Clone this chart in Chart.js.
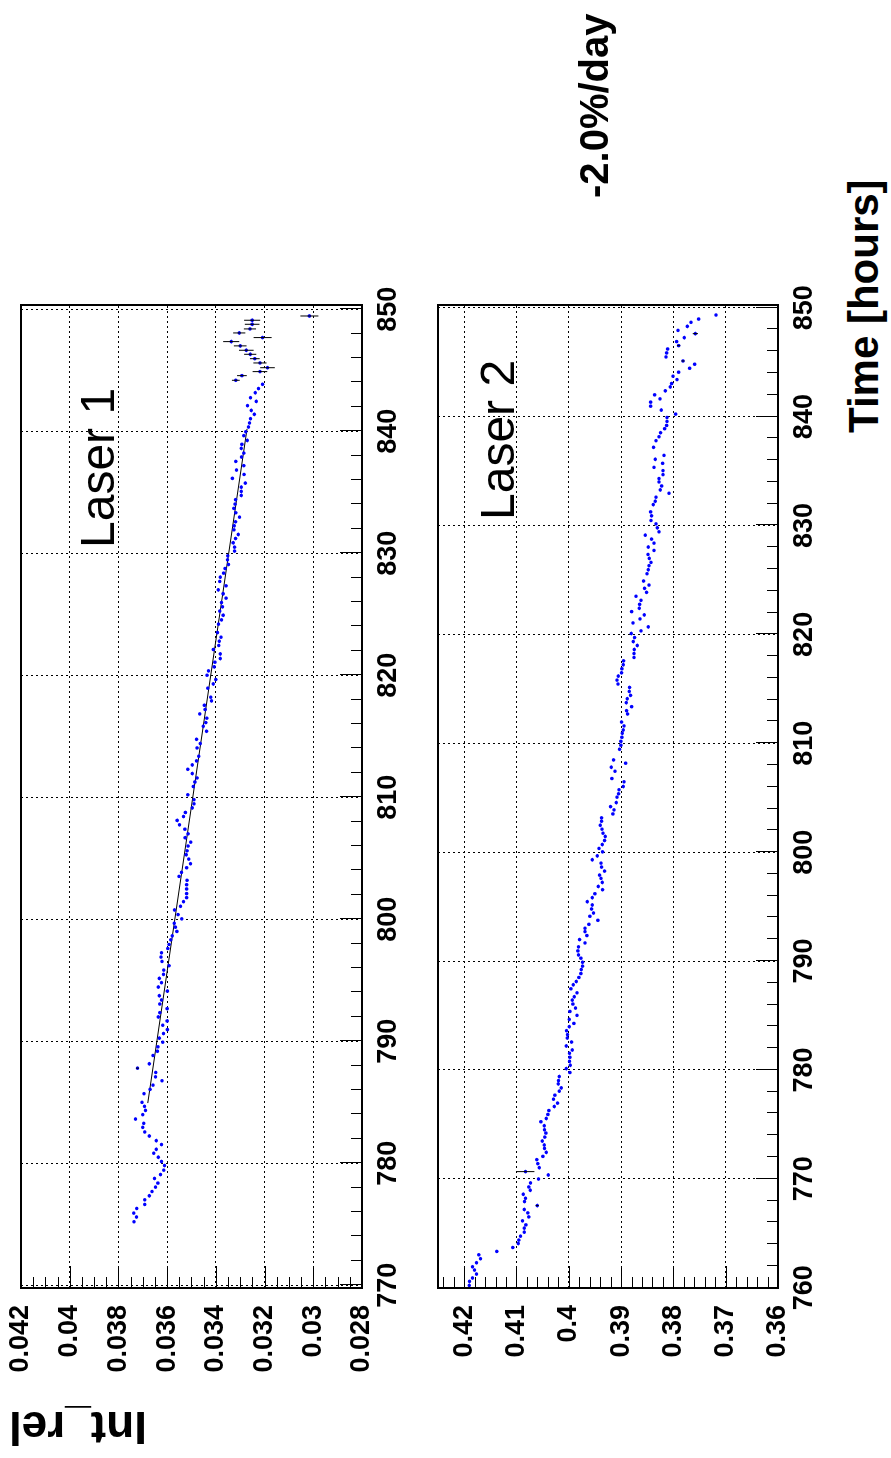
<!DOCTYPE html>
<html>
<head>
<meta charset="utf-8">
<script src="https://cdn.jsdelivr.net/npm/chart.js@4.4.1/dist/chart.umd.min.js"></script>
<style>
html, body { margin: 0; padding: 0; background: #fff; overflow: hidden; }
body { width: 891px; height: 1458px; position: relative; }
/* the plot is laid out landscape and turned a quarter turn to the left */
#page { position: absolute; left: 0; top: 0; width: 1458px; height: 930px;
        transform-origin: 0 0; transform: translate(0, 1458px) rotate(-90deg);
        font-family: 'Liberation Sans', Arial, sans-serif; }
#page canvas { position: absolute; left: 0; }
.lbl { position: absolute; white-space: nowrap; line-height: 1; color: #000; }
.b { font-weight: bold; }
</style>
</head>
<body>
<div id="page">
  <canvas id="pad1" width="1458" height="420" style="top:0px"></canvas>
  <canvas id="pad2" width="1458" height="420" style="top:420px"></canvas>
  <div class="lbl" style="left:910px; top:74px; font-size:48px">Laser 1</div>
  <div class="lbl" style="left:938px; top:474px; font-size:48px">Laser 2</div>
  <div class="lbl b" style="left:7px; top:147px; font-size:46px; transform-origin:0 0; transform:rotate(-90deg)">Int_rel</div>
  <div class="lbl b" style="left:1025px; top:843px; font-size:42px">Time [hours]</div>
  <div class="lbl b" style="left:1260px; top:574px; font-size:40px">-2.0%/day</div>
  <div class="lbl b" style="left:1255px; top:892px; font-size:40px">-4.7%/day</div>
</div>
<script>
// Laser 1 : relative intensity vs time
var laser1Time = [775.2,775.59,775.91,776.29,776.62,777.0,777.33,777.68,778.04,778.37,778.75,779.07,779.43,779.81,780.14,780.49,780.82,781.14,781.53,781.85,
  782.23,782.56,782.94,783.27,783.62,783.98,784.33,784.66,784.99,785.7,786.05,786.4,786.76,787.08,787.44,787.79,788.15,788.83,789.18,789.54,
  789.92,790.25,790.63,790.95,791.31,791.66,791.99,792.34,792.67,793.05,793.38,793.73,794.11,794.44,794.8,795.15,795.48,795.83,796.19,796.54,
  796.9,797.25,797.6,797.93,798.31,798.64,799.0,799.35,799.67,800.03,800.38,800.76,801.06,801.44,801.77,802.1,802.48,802.83,803.19,803.51,
  803.84,804.22,804.55,804.93,805.29,805.61,806.0,806.32,806.68,807.0,807.38,807.74,808.1,808.42,808.75,809.13,809.46,809.8,810.2,810.88,
  811.25,811.58,811.94,812.29,812.65,812.98,813.36,814.04,814.4,814.75,815.41,815.82,816.12,816.48,816.83,817.19,817.54,817.9,818.2,818.94,
  819.29,819.65,820.0,820.36,820.69,821.07,821.37,821.75,822.11,822.44,822.79,823.12,823.5,824.19,824.54,824.92,825.26,825.61,825.96,826.32,
  826.68,827.0,827.33,827.69,828.04,828.37,828.75,829.08,829.46,829.79,830.18,830.5,830.86,831.21,831.54,831.92,832.25,832.58,832.96,833.32,
  833.68,834.03,834.39,834.74,835.07,835.42,835.75,836.14,836.46,836.82,837.18,837.53,837.89,838.21,838.6,838.93,839.25,839.64,839.96,840.35,
  840.68,841.03,841.39,841.71,842.1,842.45,842.75,843.16,843.5,843.85,844.18,844.56,844.89,845.21,845.6,845.95,846.31,846.64,847.0,847.35,
  847.68,848.06,848.39,848.77,849.1,849.45];
var laser1Int = [0.03736,0.03726,0.03737,0.03725,0.03692,0.03692,0.03673,0.03662,0.03648,0.03638,0.03652,0.03627,0.03614,0.03611,0.03623,0.03636,0.03655,0.03645,0.03623,0.03645,
  0.03673,0.03692,0.037,0.03696,0.0373,0.037,0.03689,0.03693,0.03703,0.03695,0.0367,0.03658,0.03621,0.03648,0.03647,0.03722,0.03673,0.03658,0.0364,0.03638,
  0.03618,0.03632,0.03615,0.03599,0.03618,0.036,0.03636,0.0363,0.036,0.0363,0.03623,0.03632,0.03599,0.03636,0.03623,0.03632,0.03615,0.03614,0.03592,0.03621,
  0.03625,0.03623,0.03597,0.03592,0.03585,0.03579,0.0356,0.03566,0.03571,0.0354,0.03555,0.0357,0.03545,0.03533,0.0352,0.0352,0.0352,0.0352,0.03518,0.03551,
  0.03541,0.0352,0.03504,0.03511,0.03522,0.03518,0.03514,0.03503,0.03526,0.03514,0.03527,0.03549,0.03559,0.03533,0.03525,0.03497,0.0349,0.0349,0.03515,0.03493,
  0.03486,0.03477,0.03497,0.03515,0.03497,0.03479,0.0347,0.03477,0.03464,0.03479,0.03438,0.03452,0.03441,0.03437,0.03466,0.03444,0.03447,0.03418,0.03421,0.03433,
  0.03411,0.034,0.03436,0.0343,0.03407,0.03404,0.03382,0.03382,0.0341,0.03388,0.03386,0.03379,0.03393,0.03389,0.03377,0.0337,0.03384,0.03373,0.03377,0.03358,
  0.0337,0.0339,0.03358,0.03384,0.03382,0.03368,0.03362,0.03348,0.03352,0.03351,0.03323,0.03323,0.03329,0.03319,0.03308,0.03326,0.03325,0.03319,0.03303,0.03318,
  0.03326,0.03321,0.03319,0.03296,0.03296,0.03296,0.03279,0.03332,0.03284,0.03315,0.03285,0.03318,0.03295,0.03285,0.03296,0.03293,0.03271,0.03285,0.03277,0.03266,
  0.03262,0.03258,0.03242,0.03255,0.0327,0.03234,0.03258,0.03238,0.03225,0.03208,0.03318,0.03293,0.03219,0.03188,0.03219,0.0324,0.03259,0.03275,0.033,0.03337,
  0.03208,0.03304,0.0326,0.03251,0.03251,0.03016];
// points of laser 1 that carry a visible error bar
var laser1ErrTime = [844.18,844.56,844.89,845.21,845.6,845.95,846.31,846.64,847.0,847.35,847.68,848.06,848.39,848.77,849.1,849.45,787.79];
var laser1ErrInt  = [0.03318,0.03293,0.03219,0.03188,0.03219,0.0324,0.03259,0.03275,0.033,0.03337,0.03208,0.03304,0.0326,0.03251,0.03251,0.03016,0.03722];
var laser1ErrSize = [0.00016,0.0002,0.0003,0.0003,0.00027,0.0002,0.00025,0.0003,0.00026,0.00033,0.00037,0.00025,0.00025,0.0003,0.00033,0.00037,0.00006];
// straight-line fit drawn over laser 1
var fit1Time = [784.93, 840.2];
var fit1Int  = [0.036795, 0.03272];

// Laser 2 : relative intensity vs time
var laser2Time = [760.21,760.58,760.89,761.25,761.62,761.92,762.29,762.66,763.02,763.33,763.69,764.06,764.37,764.73,765.1,765.47,765.77,766.14,766.5,766.87,
  767.18,767.54,767.91,768.21,768.58,768.95,769.25,769.62,769.98,770.35,770.66,771.02,771.39,771.76,772.06,772.43,772.79,773.1,773.47,773.83,
  774.2,774.5,774.87,775.24,775.54,775.91,776.27,776.64,776.95,777.31,777.68,778.05,778.35,778.72,779.02,779.39,779.76,780.12,780.43,780.79,
  781.16,781.53,781.83,782.2,782.56,782.93,783.24,783.6,783.97,784.27,784.64,785.01,785.37,785.68,786.05,786.41,786.72,787.08,787.45,787.82,
  788.12,788.49,788.85,789.22,789.53,789.89,790.26,790.56,790.93,791.3,791.66,791.97,792.34,792.7,793.01,793.37,793.74,794.11,794.41,794.78,
  795.15,795.45,795.82,796.18,796.55,796.85,797.22,797.59,797.89,798.26,798.63,798.99,799.3,799.66,800.03,800.34,800.7,801.07,801.44,801.74,
  802.11,802.47,802.84,803.15,803.51,803.88,804.18,804.55,805.05,805.36,805.73,806.03,806.46,806.76,807.43,807.8,808.17,808.47,809.45,809.82,
  810.18,810.55,810.92,811.22,811.59,811.95,812.69,812.99,813.36,813.73,814.09,814.4,814.76,815.13,815.44,815.8,816.17,816.47,816.84,817.21,
  817.57,817.88,818.24,818.61,818.98,819.34,819.71,820.08,820.32,820.69,821.05,821.42,821.79,822.09,822.4,822.76,823.13,823.5,823.86,824.23,
  824.53,824.9,825.57,825.94,826.31,826.61,826.98,827.34,827.71,828.02,828.38,828.75,829.11,829.42,829.79,830.15,830.46,830.89,831.25,831.92,
  832.23,832.6,832.96,833.27,833.63,834.0,834.31,834.67,835.04,835.34,835.71,836.08,836.44,837.18,837.79,838.15,838.52,838.89,839.19,839.56,
  839.92,840.23,840.6,840.96,841.33,841.63,842.0,842.37,842.73,843.04,843.4,843.71,844.08,844.44,844.81,845.11,845.48,845.85,846.21,846.52,
  846.89,847.25,847.62,847.92,848.29,848.66,848.96,849.33];
var laser2Int = [0.41904,0.41898,0.41841,0.41764,0.41802,0.41841,0.41764,0.41688,0.41719,0.41375,0.41069,0.40967,0.40954,0.40922,0.40852,0.40852,0.4082,0.40884,0.40763,0.40782,
  0.40852,0.40603,0.40846,0.40827,0.40871,0.40737,0.40763,0.40731,0.40578,0.40393,0.40827,0.40565,0.40591,0.4061,0.40495,0.40431,0.40463,0.40469,0.40508,0.40457,
  0.40437,0.40463,0.40469,0.40533,0.40431,0.40399,0.4038,0.40278,0.40214,0.40291,0.40265,0.40182,0.40144,0.40202,0.40195,0.40182,0.39978,0.40048,0.39972,0.39985,
  0.39978,0.39985,0.39934,0.40048,0.39946,0.40029,0.40023,0.40042,0.39991,0.39902,0.39991,0.39844,0.39978,0.3987,0.39921,0.39934,0.39895,0.39844,0.39959,0.39915,
  0.39857,0.39806,0.39768,0.39761,0.39736,0.39736,0.39768,0.39813,0.39825,0.39813,0.39691,0.39793,0.39653,0.39691,0.39691,0.39615,0.39443,0.39596,0.39526,0.39564,
  0.39551,0.39647,0.39551,0.395,0.39353,0.39436,0.3936,0.39385,0.39411,0.39315,0.39372,0.39385,0.39551,0.39455,0.39353,0.39423,0.3936,0.39315,0.39302,0.39347,
  0.39366,0.39398,0.39372,0.39372,0.39156,0.39136,0.392,0.39092,0.39079,0.39047,0.39041,0.38958,0.38945,0.39175,0.39117,0.39187,0.38913,0.39143,0.39028,0.39003,
  0.39003,0.38984,0.38977,0.38958,0.38945,0.3899,0.38875,0.38894,0.38798,0.38901,0.38881,0.38818,0.38843,0.38837,0.3906,0.39079,0.39054,0.3899,0.38984,0.38958,
  0.38952,0.38754,0.38754,0.38747,0.3869,0.38767,0.38741,0.38805,0.3862,0.3848,0.38773,0.38639,0.38556,0.38798,0.38652,0.38645,0.3862,0.38716,0.38512,0.3855,
  0.38467,0.38569,0.38505,0.3848,0.38467,0.38429,0.3846,0.38486,0.38371,0.3848,0.38371,0.38416,0.38537,0.38276,0.38307,0.38333,0.38429,0.38416,0.38435,0.38384,
  0.38346,0.38333,0.38084,0.3825,0.38224,0.38276,0.38276,0.38199,0.38199,0.38371,0.38205,0.38346,0.3818,0.38378,0.38333,0.38276,0.38244,0.38167,0.38129,0.38122,
  0.38122,0.37957,0.38231,0.38435,0.38435,0.38256,0.38358,0.38154,0.38059,0.38033,0.37931,0.38008,0.37899,0.37689,0.37593,0.37816,0.38142,0.38129,0.3811,0.37899,
  0.37938,0.37791,0.3758,0.37912,0.37733,0.37663,0.37517,0.37185];
var laser2ErrTime = [767.54, 770.66, 845.11, 846.52, 847.62];
var laser2ErrInt  = [0.40603, 0.40827, 0.37816, 0.37899, 0.3758];
var laser2ErrSize = [0.0003, 0.0017, 0.0003, 0.0003, 0.0005];

// axis tick values
var time1Ticks = [770, 780, 790, 800, 810, 820, 830, 840, 850];
var time2Ticks = [760, 770, 780, 790, 800, 810, 820, 830, 840, 850];
var int1Ticks = [0.028, 0.03, 0.032, 0.034, 0.036, 0.038, 0.04, 0.042];
var int2Ticks = [0.36, 0.37, 0.38, 0.39, 0.4, 0.41, 0.42];

function points(xs, ys) {
  return xs.map(function (x, i) { return { x: x, y: ys[i] }; });
}

// ROOT-like frame, inner tick marks and error bars
var rootPad = {
  id: 'rootPad',
  afterDatasetsDraw: function (chart, args, o) {
    var ctx = chart.ctx, xs = chart.scales.x, ys = chart.scales.y;
    ctx.save();
    ctx.strokeStyle = '#000';
    ctx.lineWidth = 1;
    for (var i = 0; i < o.errTime.length; i++) {
      var px = xs.getPixelForValue(o.errTime[i]);
      var p1 = ys.getPixelForValue(o.errInt[i] - o.errSize[i]);
      var p2 = ys.getPixelForValue(o.errInt[i] + o.errSize[i]);
      ctx.beginPath(); ctx.moveTo(px, p1); ctx.lineTo(px, p2); ctx.stroke();
    }
    ctx.restore();
  },
  afterDraw: function (chart, args, o) {
    var ctx = chart.ctx, a = chart.chartArea, xs = chart.scales.x, ys = chart.scales.y;
    ctx.save();
    ctx.strokeStyle = '#000';
    ctx.lineWidth = 1;
    var n, v, len, p;
    for (n = Math.ceil(xs.min / o.xMinor - 1e-9); n * o.xMinor <= xs.max + 1e-9; n++) {
      v = n * o.xMinor;
      len = Math.abs(v / o.xMajor - Math.round(v / o.xMajor)) < 1e-6 ? 22 : 11;
      p = Math.round(xs.getPixelForValue(v)) + 0.5;
      ctx.beginPath(); ctx.moveTo(p, a.bottom); ctx.lineTo(p, a.bottom - len); ctx.stroke();
    }
    for (n = Math.ceil(ys.min / o.yMinor - 1e-9); n * o.yMinor <= ys.max + 1e-9; n++) {
      v = n * o.yMinor;
      len = Math.abs(v / o.yMajor - Math.round(v / o.yMajor)) < 1e-6 ? 22 : 11;
      p = Math.round(ys.getPixelForValue(v)) + 0.5;
      ctx.beginPath(); ctx.moveTo(a.left, p); ctx.lineTo(a.left + len, p); ctx.stroke();
    }
    ctx.lineWidth = 2;
    ctx.strokeRect(a.left, a.top, a.right - a.left, a.bottom - a.top);
    ctx.restore();
  }
};

var tickFont = { family: "'Liberation Sans', Arial, sans-serif", size: 27, weight: 'bold' };

function makePad(id, cfg) {
  var datasets = [{
    type: 'scatter',
    data: points(cfg.time, cfg.int),
    pointRadius: 1.8,
    pointBorderWidth: 0,
    pointBackgroundColor: '#0000ff',
    borderColor: '#0000ff'
  }];
  if (cfg.fitTime) {
    datasets.push({
      type: 'line',
      data: points(cfg.fitTime, cfg.fitInt),
      borderColor: '#000',
      borderWidth: 1,
      pointRadius: 0,
      fill: false
    });
  }
  return new Chart(document.getElementById(id), {
    type: 'scatter',
    data: { datasets: datasets },
    options: {
      responsive: false,
      animation: false,
      devicePixelRatio: 1,
      layout: { padding: { left: 0, right: 305, top: cfg.top, bottom: 0 } },
      plugins: {
        legend: { display: false },
        tooltip: { enabled: false },
        rootPad: cfg.pad
      },
      scales: {
        x: {
          type: 'linear',
          min: cfg.tMin, max: cfg.tMax,
          afterBuildTicks: function (s) { s.ticks = cfg.tTicks.map(function (v) { return { value: v }; }); },
          afterFit: function (s) { s.height = cfg.xh; s.paddingLeft = 0; s.paddingRight = 0; },
          grid: { color: '#000', lineWidth: 1, drawTicks: false },
          border: { display: false, dash: [2, 3] },
          ticks: { color: '#000', font: tickFont, padding: 10, maxRotation: 0, autoSkip: false }
        },
        y: {
          type: 'linear',
          min: cfg.iMin, max: cfg.iMax,
          afterBuildTicks: function (s) { s.ticks = cfg.iTicks.map(function (v) { return { value: v }; }); },
          afterFit: function (s) { s.width = 170; s.paddingTop = 0; s.paddingBottom = 0; },
          grid: { color: '#000', lineWidth: 1, drawTicks: false },
          border: { display: false, dash: [2, 3] },
          ticks: {
            color: '#000', font: tickFont, padding: 17, autoSkip: false,
            callback: function (v) { return String(+v.toFixed(4)); }
          }
        }
      }
    },
    plugins: [rootPad]
  });
}

makePad('pad1', {
  time: laser1Time, int: laser1Int, fitTime: fit1Time, fitInt: fit1Int,
  tMin: 769.77, tMax: 850.35, tTicks: time1Ticks,
  iMin: 0.028, iMax: 0.042, iTicks: int1Ticks,
  top: 21, xh: 58,
  pad: { errTime: laser1ErrTime, errInt: laser1ErrInt, errSize: laser1ErrSize,
         xMajor: 10, xMinor: 2, yMajor: 0.002, yMinor: 0.0005 }
});

makePad('pad2', {
  time: laser2Time, int: laser2Int,
  tMin: 759.97, tMax: 850.25, tTicks: time2Ticks,
  iMin: 0.36, iMax: 0.425, iTicks: int2Ticks,
  top: 18, xh: 62,
  pad: { errTime: laser2ErrTime, errInt: laser2ErrInt, errSize: laser2ErrSize,
         xMajor: 10, xMinor: 2, yMajor: 0.01, yMinor: 0.002 }
});
</script>
</body>
</html>
